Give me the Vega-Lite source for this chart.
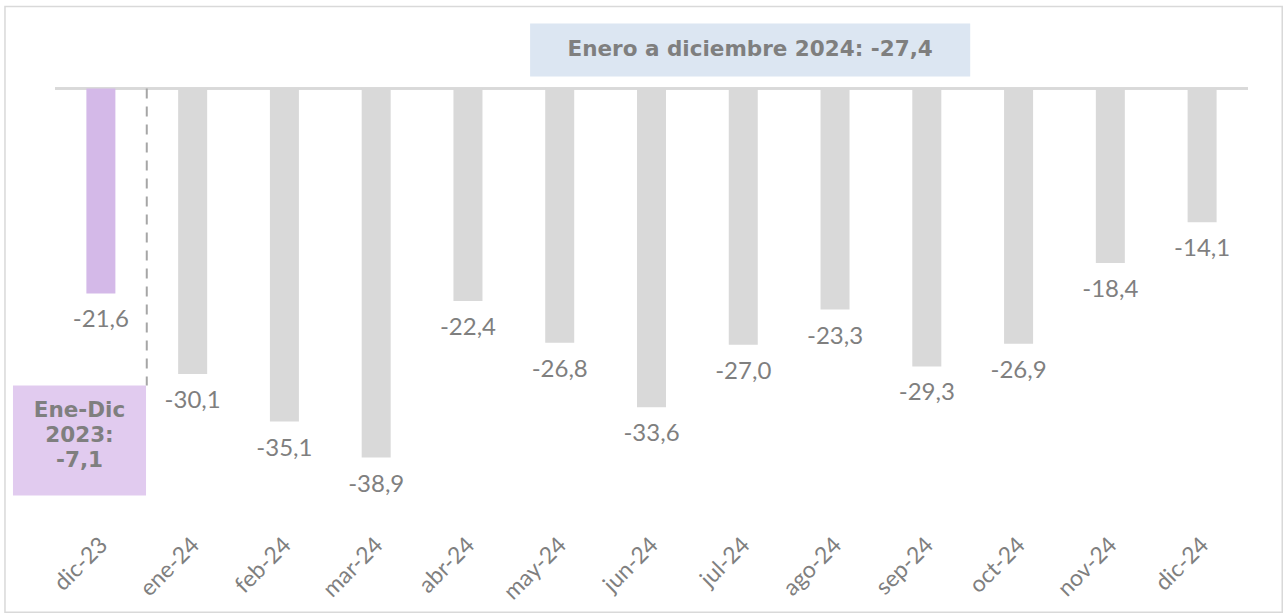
{
  "$schema": "https://vega.github.io/schema/vega-lite/v6.json",
  "width": 1193,
  "height": 484,
  "autosize": {"type": "none"},
  "padding": {"left": 55, "top": 22, "right": 38, "bottom": 107},
  "background": "white",
  "config": {"view": {"stroke": null}, "font": "Lato"},
  "datasets": {
    "meses": [
      {"mes": "dic-23", "valor": -21.6, "etiqueta": "-21,6", "grupo": "2023"},
      {"mes": "ene-24", "valor": -30.1, "etiqueta": "-30,1", "grupo": "2024"},
      {"mes": "feb-24", "valor": -35.1, "etiqueta": "-35,1", "grupo": "2024"},
      {"mes": "mar-24", "valor": -38.9, "etiqueta": "-38,9", "grupo": "2024"},
      {"mes": "abr-24", "valor": -22.4, "etiqueta": "-22,4", "grupo": "2024"},
      {"mes": "may-24", "valor": -26.8, "etiqueta": "-26,8", "grupo": "2024"},
      {"mes": "jun-24", "valor": -33.6, "etiqueta": "-33,6", "grupo": "2024"},
      {"mes": "jul-24", "valor": -27.0, "etiqueta": "-27,0", "grupo": "2024"},
      {"mes": "ago-24", "valor": -23.3, "etiqueta": "-23,3", "grupo": "2024"},
      {"mes": "sep-24", "valor": -29.3, "etiqueta": "-29,3", "grupo": "2024"},
      {"mes": "oct-24", "valor": -26.9, "etiqueta": "-26,9", "grupo": "2024"},
      {"mes": "nov-24", "valor": -18.4, "etiqueta": "-18,4", "grupo": "2024"},
      {"mes": "dic-24", "valor": -14.1, "etiqueta": "-14,1", "grupo": "2024"}
    ],
    "cajas": [
      {"caja": "2024", "x1": 5.177, "x2": 9.973, "y1": 6.85, "y2": 1.26},
      {"caja": "2023", "x1": -0.458, "x2": 0.992, "y1": -31.3, "y2": -42.9}
    ],
    "textos": [
      {"caja": "2024", "xc": 7.575, "yc": 4.05, "texto": ["Enero a diciembre 2024: -27,4"]},
      {"caja": "2023", "xc": 0.267, "yc": -34.0, "texto": ["Ene-Dic", "2023:", "-7,1"]}
    ],
    "marco": [{"x1": -0.545, "x2": 13.373, "y1": 8.64, "y2": -55.2}],
    "divisor": [{"xd": 1.0, "y1": 0, "y2": -31.3}]
  },
  "resolve": {"scale": {"x": "independent", "color": "independent"}, "axis": {"x": "independent"}},
  "layer": [
    {
      "layer": [
        {
          "data": {"name": "meses"},
          "mark": {"type": "rule", "color": "#d9d9d9", "strokeWidth": 2},
          "encoding": {"y": {"datum": 0, "type": "quantitative", "scale": {"domain": [-44, 7], "nice": false, "zero": false}, "axis": null}}
        },
        {
          "data": {"name": "meses"},
          "mark": {"type": "bar"},
          "encoding": {
            "x": {
              "field": "mes", "type": "nominal", "sort": null,
              "scale": {"paddingInner": 0.684, "paddingOuter": 0.342},
              "axis": {
                "title": null, "domain": false, "ticks": false,
                "labelAngle": -45, "labelAlign": "right", "labelBaseline": "middle",
                "labelFontSize": 23, "labelColor": "#7f7f7f", "labelFont": "Lato",
                "labelPadding": 35, "labelOffset": 3
              }
            },
            "y": {"field": "valor", "type": "quantitative"},
            "y2": {"datum": 0},
            "color": {"field": "grupo", "type": "nominal", "scale": {"domain": ["2023", "2024"], "range": ["#d4b9e8", "#d9d9d9"]}, "legend": null}
          }
        },
        {
          "data": {"name": "meses"},
          "mark": {"type": "text", "baseline": "middle", "dy": 27, "fontSize": 24, "color": "#7f7f7f", "font": "Lato"},
          "encoding": {
            "x": {"field": "mes", "type": "nominal", "sort": null},
            "y": {"field": "valor", "type": "quantitative"},
            "text": {"field": "etiqueta"}
          }
        }
      ]
    },
    {
      "layer": [
        {
          "data": {"name": "marco"},
          "mark": {"type": "rect", "fillOpacity": 0, "stroke": "#d9d9d9", "strokeWidth": 1.5},
          "encoding": {
            "x": {"field": "x1", "type": "quantitative", "scale": {"domain": [0, 13], "nice": false, "zero": false}, "axis": null},
            "x2": {"field": "x2"},
            "y": {"field": "y1", "type": "quantitative"},
            "y2": {"field": "y2"}
          }
        },
        {
          "data": {"name": "divisor"},
          "mark": {"type": "rule", "color": "#a6a6a6", "strokeWidth": 2, "strokeDash": [10, 8]},
          "encoding": {
            "x": {"field": "xd", "type": "quantitative"},
            "y": {"field": "y1", "type": "quantitative"},
            "y2": {"field": "y2"}
          }
        },
        {
          "data": {"name": "cajas"},
          "mark": {"type": "rect"},
          "encoding": {
            "x": {"field": "x1", "type": "quantitative"},
            "x2": {"field": "x2"},
            "y": {"field": "y1", "type": "quantitative"},
            "y2": {"field": "y2"},
            "color": {"field": "caja", "type": "nominal", "scale": {"domain": ["2023", "2024"], "range": ["#e1cbef", "#dce6f2"]}, "legend": null}
          }
        },
        {
          "data": {"name": "textos"},
          "mark": {"type": "text", "fontSize": 21.5, "fontWeight": "bold", "color": "#7f7f7f", "font": "DejaVu Sans", "lineHeight": 25, "baseline": "middle"},
          "encoding": {
            "x": {"field": "xc", "type": "quantitative"},
            "y": {"field": "yc", "type": "quantitative"},
            "text": {"field": "texto"}
          }
        }
      ]
    }
  ]
}
